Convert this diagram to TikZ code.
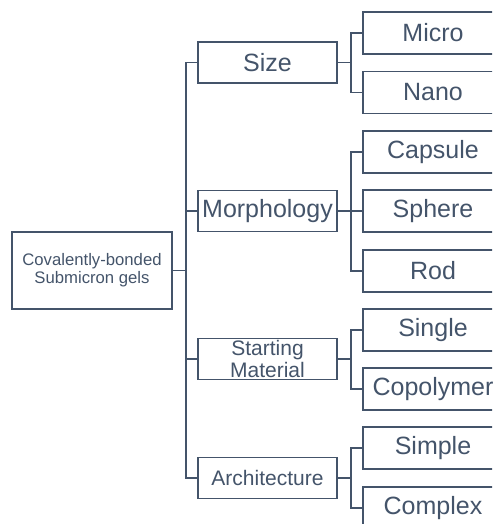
\documentclass[tikz,border=0pt]{standalone}
\usepackage{fontspec}
\setmainfont{Liberation Sans}
\usetikzlibrary{calc}
\definecolor{slate}{HTML}{44546A}

\begin{document}
\begin{tikzpicture}[
        x=1pt, y=-1pt,
        every node/.style = {
            rectangle,
            draw=slate,
            text=slate,
            line width=1.7pt,
            inner sep=0pt,
            align=center
        },
        rootbox/.style = {
            minimum width=160pt, minimum height=77pt,
            font=\fontsize{16.7}{18}\selectfont
        },
        groupbox/.style = {
            minimum width=139pt, minimum height=41pt,
            font=\fontsize{25}{25}\selectfont
        },
        smallgroup/.style = {
            groupbox,
            font=\fontsize{21}{21.5}\selectfont
        },
        leafbox/.style = {
            minimum width=140pt, minimum height=42pt,
            font=\fontsize{25}{25}\selectfont
        },
        link/.style = {draw=slate, line width=1.7pt}
    ]
        \useasboundingbox (0,0) rectangle (492,524);
        \clip (0,0) rectangle (492,524);

        \node[rootbox] (root) at (92,270.5) {Covalently-bonded\\Submicron gels};

        \node[groupbox]   (size)  at (267.5,62.5) {Size};
        \node[groupbox]   (morph) at (267.5,211)  {Morphology};
        \node[smallgroup] (start) at (267.5,359)  {Starting\\Material};
        \node[smallgroup] (arch)  at (267.5,478)  {Architecture};

        \node[leafbox] (micro)   at (433,33)    {Micro};
        \node[leafbox] (nano)    at (433,92.5)  {Nano};
        \node[leafbox] (capsule) at (433,152)   {Capsule};
        \node[leafbox] (sphere)  at (433,211)   {Sphere};
        \node[leafbox] (rod)     at (433,271)   {Rod};
        \node[leafbox] (single)  at (433,330)   {Single};
        \node[leafbox] (copoly)  at (433,389)   {Copolymer};
        \node[leafbox] (simple)  at (433,448)   {Simple};
        \node[leafbox] (complex) at (433,508)   {Complex};

        \draw[link] (root.east) -- ++(13,0) coordinate (hub);
        \foreach \b in {size,morph,start,arch}
            \draw[link] (hub) |- (\b);

        \foreach \p/\kids in {size/{micro,nano}, morph/{capsule,sphere,rod},
                              start/{single,copoly}, arch/{simple,complex}} {
            \draw[link] (\p.east) -- ++(13,0) coordinate (\p hub);
            \foreach \k in \kids
                \draw[link] (\p hub) |- (\k);
        }
\end{tikzpicture}
\end{document}
